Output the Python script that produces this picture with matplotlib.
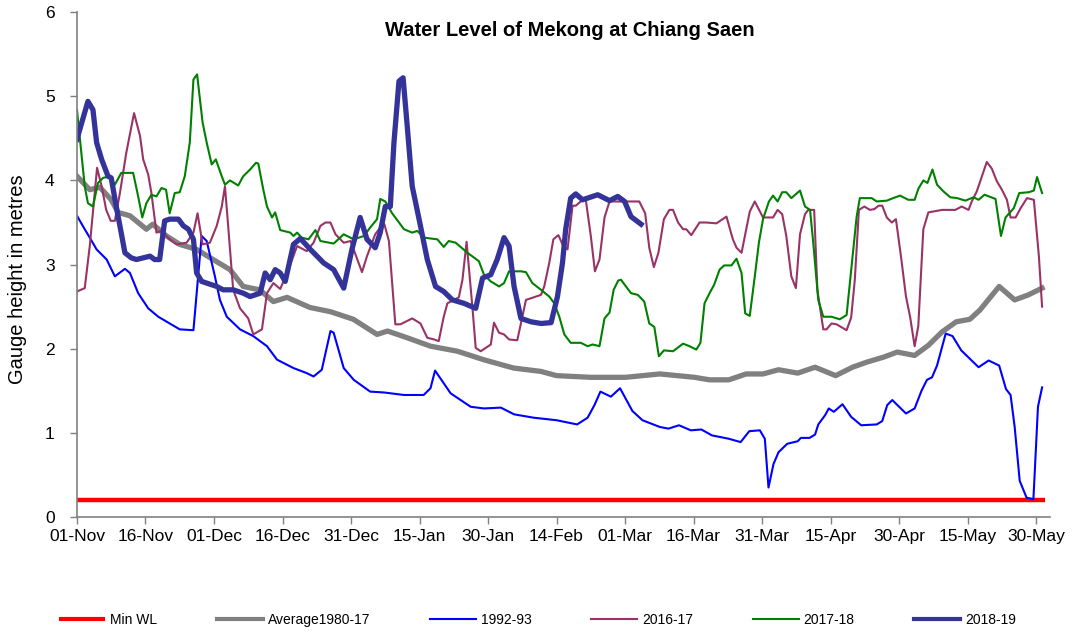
import matplotlib
matplotlib.use("Agg")
import matplotlib.pyplot as plt

plt.rcParams['font.family'] = ['Liberation Sans', 'DejaVu Sans']

# x-Achse: Tage ab 01-Nov
tick_days = [0, 15, 30, 45, 60, 75, 90, 105, 120, 135, 150, 165, 180, 195, 210]
tick_labels = ["01-Nov", "16-Nov", "01-Dec", "16-Dec", "31-Dec", "15-Jan", "30-Jan",
               "14-Feb", "01-Mar", "16-Mar", "31-Mar", "15-Apr", "30-Apr", "15-May", "30-May"]

min_wl_days = [0, 212]
min_wl = [0.2, 0.2]

avg_days = [0, 2.8, 5, 7.5, 9, 11.6, 15.2, 16.6, 19.6, 22.5, 26.2, 29.8, 33.5, 36.4, 40, 43, 46,
            51, 55.5, 60.5, 65.7, 68, 72.3, 77.4, 83.3, 89, 95.6, 101.6, 105, 112.5, 120.1,
            127.6, 135.2, 138.5, 142.7, 146.5, 150.2, 153.6, 157.8, 161.6, 166.1, 169.8,
            172.9, 176.6, 179.6, 183.4, 186.4, 189.4, 192.5, 195.5, 197.7, 201.9, 205.3,
            208.3, 211.3]
avg = [4.05, 3.89, 3.92, 3.77, 3.62, 3.58, 3.42, 3.48, 3.34, 3.24, 3.18, 3.06, 2.94, 2.74, 2.70,
       2.56, 2.61, 2.49, 2.44, 2.35, 2.17, 2.21, 2.13, 2.03, 1.97, 1.87, 1.77, 1.73, 1.68, 1.66,
       1.66, 1.70, 1.66, 1.63, 1.63, 1.70, 1.70, 1.75, 1.71, 1.78, 1.68, 1.78, 1.84, 1.90, 1.96,
       1.92, 2.04, 2.20, 2.32, 2.35, 2.46, 2.74, 2.58, 2.64, 2.72]

y9293_days = [0, 1.7, 2.8, 4.3, 6.5, 8.3, 10.5, 11.6, 13.4, 15.6, 17.8, 22.5, 25.5, 27.3, 28.4,
              30.2, 31.3, 32.8, 35.7, 38.6, 41.6, 43.8, 47.4, 50.3, 51.8, 53.6, 55.5, 56.2,
              58.4, 60.6, 64.2, 67.2, 71.6, 75.9, 77.4, 78.4, 81.8, 86.2, 89.1, 92.8, 95.7,
              100, 105, 109.5, 111.8, 113.3, 114.6, 116.9, 118.9, 121.6, 123.8, 127.6, 129.5,
              131.8, 134.4, 136.7, 139, 142.7, 145.3, 147.2, 149.5, 150.6, 151.4, 152.5, 153.6,
              155.5, 157.8, 158.5, 160.4, 161.6, 162.3, 163.8, 164.6, 165.7, 167.6, 169.5,
              171.7, 175.1, 176.3, 177.4, 178.5, 181.5, 183.4, 184.9, 186.1, 187.2, 188.3,
              190.2, 191.7, 193.6, 197.4, 199.6, 201.9, 203.4, 204.4, 205.3, 206.4, 207.9,
              209.4, 210.4, 211.3]
y9293 = [3.58, 3.42, 3.32, 3.18, 3.06, 2.86, 2.95, 2.90, 2.66, 2.48, 2.38, 2.23, 2.22, 3.34, 3.28,
         2.86, 2.58, 2.38, 2.23, 2.15, 2.03, 1.87, 1.77, 1.71, 1.67, 1.75, 2.21, 2.19,
         1.77, 1.63, 1.49, 1.48, 1.45, 1.45, 1.53, 1.74, 1.47, 1.31, 1.29, 1.30, 1.22,
         1.18, 1.15, 1.10, 1.18, 1.33, 1.49, 1.43, 1.53, 1.26, 1.15, 1.07, 1.05,
         1.09, 1.03, 1.04, 0.97, 0.93, 0.89, 1.02, 1.03, 0.93, 0.35, 0.63, 0.77,
         0.87, 0.90, 0.94, 0.94, 0.98, 1.10, 1.21, 1.29, 1.25, 1.34, 1.19,
         1.09, 1.10, 1.14, 1.33, 1.39, 1.23, 1.29, 1.50, 1.63, 1.66, 1.80,
         2.18, 2.15, 1.98, 1.78, 1.86, 1.80, 1.52, 1.45, 1.07, 0.43, 0.23,
         0.21, 1.31, 1.54]

y1617_days = [0, 1.7, 2.8, 4.4, 5.4, 6.4, 7.4, 8.3, 9.4, 10.8, 12.5, 13.8, 14.5, 15.6, 16.3,
              17.4, 18.5, 20.3, 21.8, 24, 25.5, 26.4, 27.5, 29.1, 30.6, 31.7, 32.4, 33.1,
              34.2, 35.7, 37.5, 38.6, 40.5, 41.6, 43, 44.5, 46, 48.2, 50.3, 51.8, 53.3, 54.4,
              55.5, 56.6, 58.4, 59.9, 62.4, 63.5, 65.3, 66.4, 67.3, 68.3, 69.7, 70.8, 73.4,
              75.2, 76.7, 78.2, 79.2, 80.3, 81.1, 83.6, 84.4, 85.3, 86.6, 87.3, 88.4, 90.6,
              91.3, 92.4, 93.5, 94.6, 96.4, 97.2, 98.3, 101.6, 102.3, 103.4, 104.3, 105.4,
              106.3, 107.4, 108.5, 109.2, 110.3, 111.4, 112.5, 113.4, 114.4, 115.5, 116.6,
              119.1, 123.1, 124.4, 125.3, 126.3, 127.3, 128.5, 129.7, 130.5, 131.6, 132.7,
              133.4, 134.5, 136.3, 137.8, 140, 142.2, 143.6, 144.4, 145.5, 147.3, 148.4,
              150.2, 152.4, 153.4, 154.4, 155.3, 156.4, 157.4, 158.3, 159.4, 160.1, 161.4,
              162.1, 163.4, 164.1, 165.2, 166.3, 168.5, 169.5, 170.3, 171.2, 172.4, 173.6,
              174.6, 175.5, 176.3, 177.3, 178.4, 179.3, 180.4, 181.5, 182.4, 183.4, 184.2,
              185.3, 186.4, 189.4, 192.3, 193.7, 195.2, 195.9, 197, 199.2, 200.3, 201.4,
              202.5, 203.6, 204.4, 205.5, 206.6, 208, 209.5, 210.6, 211.3]
y1617 = [2.68, 2.72, 3.22, 4.15, 3.93, 3.65, 3.52, 3.52, 3.85, 4.33, 4.80, 4.53, 4.25, 4.07, 3.85,
         3.38, 3.40, 3.30, 3.24, 3.26, 3.38, 3.61, 3.24, 3.26, 3.46, 3.69, 3.93, 3.46,
         2.70, 2.48, 2.36, 2.17, 2.23, 2.66, 2.78, 2.71, 2.90, 3.22, 3.16, 3.26, 3.46, 3.50,
         3.50, 3.36, 3.26, 3.28, 2.91, 3.10, 3.36, 3.44, 3.48, 3.28, 2.29, 2.29, 2.36,
         2.30, 2.13, 2.11, 2.09, 2.38, 2.54, 2.61, 2.82, 3.27, 2.48, 2.01, 1.97, 2.05,
         2.31, 2.19, 2.17, 2.11, 2.10, 2.30, 2.58, 2.64, 2.74, 3.02, 3.30, 3.35,
         3.24, 3.18, 3.70, 3.70, 3.75, 3.77, 3.34, 2.92, 3.06, 3.56, 3.75,
         3.75, 3.75, 3.61, 3.20, 2.97, 3.14, 3.54, 3.65, 3.65, 3.50, 3.42,
         3.42, 3.35, 3.50, 3.50, 3.49, 3.57, 3.30, 3.20, 3.14, 3.63, 3.75,
         3.56, 3.56, 3.65, 3.60, 3.34, 2.86, 2.72, 3.36, 3.60, 3.65, 3.65,
         2.70, 2.23, 2.23, 2.30, 2.29, 2.22, 2.37, 2.82, 3.65, 3.69, 3.65,
         3.66, 3.70, 3.70, 3.56, 3.50, 3.54, 3.10, 2.62, 2.38, 2.03, 2.27,
         3.42, 3.62, 3.65, 3.65, 3.69, 3.65, 3.75, 3.87, 4.22, 4.14, 3.99,
         3.89, 3.77, 3.56, 3.56, 3.67, 3.79, 3.77, 3.10, 2.50]

y1718_days = [0, 0.95, 1.7, 2.4, 3.5, 4.6, 5.7, 7.2, 8.3, 9.7, 12.3, 13.4, 14.3, 15.2, 16.3,
              17.4, 18.5, 19.5, 20.3, 21.4, 22.5, 23.6, 24.7, 25.5, 26.3, 27.5, 28.4, 29.5,
              30.4, 31.7, 32.4, 33.5, 35.3, 36.4, 37.9, 39.2, 39.7, 40.8, 41.6, 42.7, 43.4,
              44.5, 46.7, 47.4, 48.2, 49.2, 50.7, 52.2, 53.3, 56.2, 58.4, 60.6, 62.8, 64.2,
              65.7, 66.4, 67.5, 69, 71.6, 73.4, 74.5, 76, 78.9, 80.3, 81.4, 82.9, 85.5, 88,
              89.1, 90.6, 92.4, 93.5, 94.6, 97.2, 98.3, 99.7, 101.6, 103.4, 104.5, 105.6,
              106.7, 108.1, 110.3, 111.8, 112.9, 114.4, 115.5, 116.6, 117.5, 118.5, 119.1,
              121.3, 122.8, 124.2, 125.3, 126.4, 127.4, 128.5, 130.5, 132.7, 134.1, 135.6,
              136.5, 137.4, 138.5, 139.5, 140.7, 141.7, 143.3, 144.4, 145.5, 146.3, 147.3,
              148.4, 149.3, 150.2, 151.5, 152.4, 153.4, 154.4, 155.3, 156.4, 158.3, 159.4,
              160.5, 161.2, 162.3, 163.4, 165.2, 167, 168.5, 169.6, 170.7, 171.4, 174,
              175.1, 177.3, 178.7, 180.2, 182, 183.4, 184.2, 185.3, 186.2, 187.3, 188.3,
              189.7, 191.2, 192.7, 194.5, 196.3, 197.4, 198.7, 201.1, 202.3, 203.3, 205.1,
              206.3, 208.4, 209.5, 210.2, 211.3]
y1718 = [4.84, 4.33, 3.93, 3.73, 3.69, 3.97, 4.03, 4.05, 3.95, 4.09, 4.09, 3.81, 3.56, 3.73, 3.83,
         3.81, 3.91, 3.89, 3.61, 3.85, 3.86, 4.05, 4.45, 5.20, 5.26, 4.69, 4.45, 4.19,
         4.25, 4.05, 3.95, 4.00, 3.94, 4.05, 4.13, 4.21, 4.20, 3.89, 3.69, 3.56, 3.62,
         3.41, 3.38, 3.34, 3.38, 3.32, 3.30, 3.41, 3.28, 3.25, 3.36, 3.30, 3.34, 3.44,
         3.54, 3.78, 3.75, 3.61, 3.42, 3.38, 3.40, 3.32, 3.30, 3.21, 3.28, 3.26, 3.14, 3.04,
         2.88, 2.80, 2.74, 2.78, 2.92, 2.92, 2.91, 2.78, 2.70, 2.62, 2.54, 2.38,
         2.17, 2.07, 2.07, 2.03, 2.05, 2.03, 2.36, 2.43, 2.70, 2.81, 2.82,
         2.66, 2.64, 2.56, 2.30, 2.26, 1.91, 1.98, 1.97, 2.06, 2.03, 1.99,
         2.07, 2.54, 2.66, 2.76, 2.94, 2.99, 2.99, 3.07, 2.90, 2.42, 2.39,
         2.86, 3.26, 3.54, 3.75, 3.82, 3.75, 3.86, 3.86, 3.79, 3.88, 3.69,
         3.65, 3.26, 2.58, 2.38, 2.38, 2.35, 2.40, 2.98, 3.57, 3.79, 3.79,
         3.75, 3.76, 3.79, 3.82, 3.77, 3.77, 3.90, 4.00, 3.97, 4.13, 3.95,
         3.87, 3.80, 3.79, 3.76, 3.80, 3.77, 3.83, 3.78, 3.34, 3.56, 3.67,
         3.85, 3.86, 3.88, 4.04, 3.85]

y1819_days = [0, 2.4, 3.5, 4.3, 5.4, 6.8, 7.5, 8.6, 9.4, 10.5, 11.9, 13, 16, 17, 18.1, 19.2,
              20.3, 22.2, 23.3, 24.4, 25.5, 26.2, 27.3, 28.4, 30.6, 32, 34.2, 36.4, 37.9, 39,
              40.1, 41.2, 42.3, 43.4, 44.5, 45.6, 47.4, 48.9, 51.1, 54, 56.2, 58.4, 60.2, 62,
              63.5, 65.3, 66.4, 67.5, 68.6, 69.4, 70.5, 71.4, 72.3, 73.4, 74.9, 76.7, 78.5,
              80.3, 82.2, 84.7, 87.3, 88.8, 90.6, 92, 93.5, 94.6, 95.7, 97.2, 99.4, 101.6,
              103.8, 105.2, 106.3, 107, 108.1, 109.2, 110.7, 114, 116.6, 118.4, 119.9, 121.3,
              123.5]
y1819 = [4.49, 4.94, 4.84, 4.45, 4.25, 4.05, 4.03, 3.69, 3.46, 3.14, 3.08, 3.06, 3.10, 3.06, 3.06, 3.52,
         3.54, 3.54, 3.46, 3.42, 3.30, 2.90, 2.80, 2.78, 2.74, 2.70, 2.70, 2.66, 2.62, 2.64,
         2.66, 2.90, 2.82, 2.94, 2.90, 2.80, 3.24, 3.31, 3.18, 3.02, 2.94, 2.72, 3.18, 3.56,
         3.30, 3.20, 3.38, 3.69, 3.69, 4.45, 5.18, 5.22, 4.65, 3.93, 3.54, 3.06, 2.74,
         2.68, 2.58, 2.54, 2.48, 2.84, 2.88, 3.06, 3.32, 3.22, 2.74, 2.36, 2.32, 2.30,
         2.31, 2.62, 3.02, 3.42, 3.79, 3.84, 3.77, 3.83, 3.76, 3.81, 3.75, 3.57,
         3.48]

fig = plt.figure(figsize=(10.75, 6.31), dpi=100)
ax = fig.add_axes([0.0716, 0.1807, 0.905, 0.80])

ax.plot(min_wl_days, min_wl, color='#FF0000', lw=3.2, label="Min WL", solid_capstyle='butt')
ax.plot(avg_days, avg, color='#808080', lw=3.8, label="Average1980-17")
ax.plot(y9293_days, y9293, color='#0000FF', lw=1.5, label="1992-93")
ax.plot(y1617_days, y1617, color='#993366', lw=1.5, label="2016-17")
ax.plot(y1718_days, y1718, color='#008000', lw=1.5, label="2017-18")
ax.plot(y1819_days, y1819, color='#333399', lw=3.8, label="2018-19")

ax.set_xlim(0, 213)
ax.set_ylim(0, 6)
ax.set_xticks(tick_days)
ax.set_xticklabels(tick_labels, fontsize=12.5)
ax.set_yticks(range(7))
ax.tick_params(axis='y', labelsize=12.5, pad=11)
ax.tick_params(direction='out', color='#808080', length=5, width=1)
for s in ['top', 'right']:
    ax.spines[s].set_visible(False)
for s in ['left', 'bottom']:
    ax.spines[s].set_color('#808080')
    ax.spines[s].set_linewidth(1.2)

fig.text(18 / 1075, 0.557, "Gauge height in metres", rotation=90, ha='center', va='center',
         fontsize=14.5)
fig.text(0.530, 0.951, "Water Level of Mekong at Chiang Saen", ha='center', va='center',
         fontsize=14.5, fontweight='bold')

leg = fig.legend(loc='center', bbox_to_anchor=(0.5, 0.017), ncol=6, frameon=False,
                 fontsize=10, handlelength=3.3, columnspacing=4.3, handletextpad=0.36)
for line in leg.get_lines():
    line.set_linewidth(min(line.get_linewidth(), 3.0))

fig.savefig("out.png", dpi=100)
